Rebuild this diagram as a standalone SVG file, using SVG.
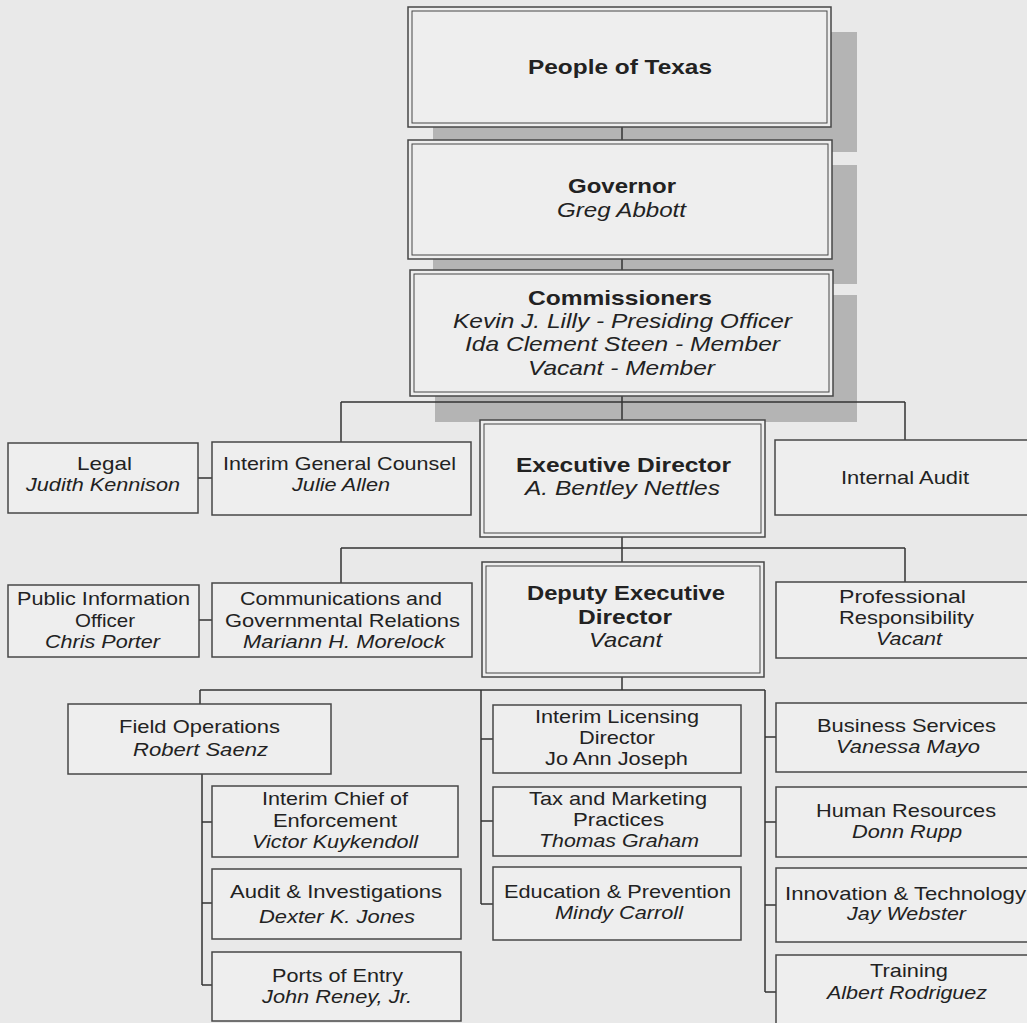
<svg xmlns="http://www.w3.org/2000/svg" width="1027" height="1023" viewBox="0 0 1027 1023">
<style>
.t{font-family:"Liberation Sans",Arial,sans-serif;fill:#222;text-anchor:middle}
.b{font-weight:bold;font-size:21px}
.bi{font-style:italic;font-size:21px}
.r{font-size:19px}
.i{font-style:italic;font-size:19px}
.box{fill:#eeeeee;stroke:#474747;stroke-width:1.5}
.inner{fill:none;stroke:#474747;stroke-width:1}
.shadow{fill:#b4b4b4}
.conn{stroke:#333;stroke-width:1.5;fill:none}
</style>
<rect width="1027" height="1023" fill="#e9e9e9"/>
<g id="shadows">
<rect class="shadow" x="433" y="32" width="424" height="120"/>
<rect class="shadow" x="433" y="165" width="424" height="119"/>
<rect class="shadow" x="435" y="295" width="422" height="127"/>
</g>
<g id="connectors">
<path class="conn" d="M622,127V140M622,259V270M622,396V420M341,402H905M341,402V442M905,402V440M198,478H212"/>
<path class="conn" d="M622,537V562M341,548H905M341,548V583M905,548V582M199,620H212"/>
<path class="conn" d="M622,677V690M200,690H765M200,690V704"/>
<path class="conn" d="M202,774V985M202,822H212M202,903H212M202,985H212"/>
<path class="conn" d="M481,690V904M481,739H493M481,821H493M481,904H493"/>
<path class="conn" d="M765,690V992M765,737H776M765,822H776M765,905H776M765,992H776"/>
</g>
<g id="people">
<rect class="box" x="408" y="7" width="423" height="120"/>
<rect class="inner" x="412" y="11" width="415" height="112"/>
<text class="t b" x="620" y="74" textLength="184" lengthAdjust="spacingAndGlyphs">People of Texas</text>
</g>
<g id="governor">
<rect class="box" x="408" y="140" width="424" height="119"/>
<rect class="inner" x="412" y="144" width="416" height="111"/>
<text class="t b" x="622" y="193" textLength="108" lengthAdjust="spacingAndGlyphs">Governor</text>
<text class="t bi" x="621.5" y="217" textLength="129" lengthAdjust="spacingAndGlyphs">Greg Abbott</text>
</g>
<g id="commissioners">
<rect class="box" x="410" y="270" width="423" height="126"/>
<rect class="inner" x="414" y="274" width="415" height="118"/>
<text class="t b" x="620" y="305" textLength="184" lengthAdjust="spacingAndGlyphs">Commissioners</text>
<text class="t bi" x="622.5" y="328" textLength="339" lengthAdjust="spacingAndGlyphs">Kevin J. Lilly - Presiding Officer</text>
<text class="t bi" x="622.5" y="351" textLength="315" lengthAdjust="spacingAndGlyphs">Ida Clement Steen - Member</text>
<text class="t bi" x="621.5" y="375" textLength="187" lengthAdjust="spacingAndGlyphs">Vacant - Member</text>
</g>
<g id="legal">
<rect class="box" x="8" y="443" width="190" height="70"/>
<text class="t r" x="104.5" y="470" textLength="55" lengthAdjust="spacingAndGlyphs">Legal</text>
<text class="t i" x="103" y="491" textLength="154" lengthAdjust="spacingAndGlyphs">Judith Kennison</text>
</g>
<g id="general-counsel">
<rect class="box" x="212" y="442" width="259" height="73"/>
<text class="t r" x="339.5" y="470" textLength="233" lengthAdjust="spacingAndGlyphs">Interim General Counsel</text>
<text class="t i" x="341" y="491" textLength="98" lengthAdjust="spacingAndGlyphs">Julie Allen</text>
</g>
<g id="executive-director">
<rect class="box" x="480" y="420" width="285" height="117"/>
<rect class="inner" x="484" y="424" width="277" height="109"/>
<text class="t b" x="623.5" y="472" textLength="215" lengthAdjust="spacingAndGlyphs">Executive Director</text>
<text class="t bi" x="622.5" y="495" textLength="195" lengthAdjust="spacingAndGlyphs">A. Bentley Nettles</text>
</g>
<g id="internal-audit">
<rect class="box" x="775" y="440" width="265" height="75"/>
<text class="t r" x="905" y="484" textLength="128" lengthAdjust="spacingAndGlyphs">Internal Audit</text>
</g>
<g id="public-information">
<rect class="box" x="8" y="585" width="191" height="72"/>
<text class="t r" x="103.5" y="605" textLength="173" lengthAdjust="spacingAndGlyphs">Public Information</text>
<text class="t r" x="105" y="627" textLength="60" lengthAdjust="spacingAndGlyphs">Officer</text>
<text class="t i" x="102.5" y="648" textLength="115" lengthAdjust="spacingAndGlyphs">Chris Porter</text>
</g>
<g id="communications">
<rect class="box" x="212" y="583" width="260" height="74"/>
<text class="t r" x="341" y="605" textLength="202" lengthAdjust="spacingAndGlyphs">Communications and</text>
<text class="t r" x="342.5" y="627" textLength="235" lengthAdjust="spacingAndGlyphs">Governmental Relations</text>
<text class="t i" x="344" y="648" textLength="202" lengthAdjust="spacingAndGlyphs">Mariann H. Morelock</text>
</g>
<g id="deputy-executive-director">
<rect class="box" x="482" y="562" width="282" height="115"/>
<rect class="inner" x="486" y="566" width="274" height="107"/>
<text class="t b" x="626" y="600" textLength="198" lengthAdjust="spacingAndGlyphs">Deputy Executive</text>
<text class="t b" x="625" y="624" textLength="94" lengthAdjust="spacingAndGlyphs">Director</text>
<text class="t bi" x="625.5" y="647" textLength="73" lengthAdjust="spacingAndGlyphs">Vacant</text>
</g>
<g id="professional-responsibility">
<rect class="box" x="776" y="582" width="264" height="76"/>
<text class="t r" x="902.5" y="603" textLength="127" lengthAdjust="spacingAndGlyphs">Professional</text>
<text class="t r" x="906.5" y="624" textLength="135" lengthAdjust="spacingAndGlyphs">Responsibility</text>
<text class="t i" x="909" y="645" textLength="66" lengthAdjust="spacingAndGlyphs">Vacant</text>
</g>
<g id="field-operations">
<rect class="box" x="68" y="704" width="263" height="70"/>
<text class="t r" x="199.5" y="733" textLength="161" lengthAdjust="spacingAndGlyphs">Field Operations</text>
<text class="t i" x="200.5" y="756" textLength="135" lengthAdjust="spacingAndGlyphs">Robert Saenz</text>
</g>
<g id="chief-enforcement">
<rect class="box" x="212" y="786" width="246" height="71"/>
<text class="t r" x="335" y="805" textLength="146" lengthAdjust="spacingAndGlyphs">Interim Chief of</text>
<text class="t r" x="335" y="827" textLength="124" lengthAdjust="spacingAndGlyphs">Enforcement</text>
<text class="t i" x="335" y="848" textLength="166" lengthAdjust="spacingAndGlyphs">Victor Kuykendoll</text>
</g>
<g id="audit-investigations">
<rect class="box" x="212" y="869" width="249" height="70"/>
<text class="t r" x="336" y="898" textLength="212" lengthAdjust="spacingAndGlyphs">Audit &amp; Investigations</text>
<text class="t i" x="337" y="923" textLength="156" lengthAdjust="spacingAndGlyphs">Dexter K. Jones</text>
</g>
<g id="ports-of-entry">
<rect class="box" x="212" y="952" width="249" height="69"/>
<text class="t r" x="337.5" y="982" textLength="131" lengthAdjust="spacingAndGlyphs">Ports of Entry</text>
<text class="t i" x="337" y="1003" textLength="150" lengthAdjust="spacingAndGlyphs">John Reney, Jr.</text>
</g>
<g id="licensing">
<rect class="box" x="493" y="705" width="248" height="68"/>
<text class="t r" x="617" y="723" textLength="164" lengthAdjust="spacingAndGlyphs">Interim Licensing</text>
<text class="t r" x="617" y="744" textLength="76" lengthAdjust="spacingAndGlyphs">Director</text>
<text class="t r" x="616.5" y="765" textLength="143" lengthAdjust="spacingAndGlyphs">Jo Ann Joseph</text>
</g>
<g id="tax-marketing">
<rect class="box" x="493" y="787" width="248" height="69"/>
<text class="t r" x="618" y="805" textLength="178" lengthAdjust="spacingAndGlyphs">Tax and Marketing</text>
<text class="t r" x="618.5" y="826" textLength="91" lengthAdjust="spacingAndGlyphs">Practices</text>
<text class="t i" x="619" y="847" textLength="160" lengthAdjust="spacingAndGlyphs">Thomas Graham</text>
</g>
<g id="education-prevention">
<rect class="box" x="493" y="867" width="248" height="73"/>
<text class="t r" x="617.5" y="898" textLength="227" lengthAdjust="spacingAndGlyphs">Education &amp; Prevention</text>
<text class="t i" x="619" y="919" textLength="128" lengthAdjust="spacingAndGlyphs">Mindy Carroll</text>
</g>
<g id="business-services">
<rect class="box" x="776" y="703" width="264" height="69"/>
<text class="t r" x="906.5" y="732" textLength="179" lengthAdjust="spacingAndGlyphs">Business Services</text>
<text class="t i" x="908" y="753" textLength="144" lengthAdjust="spacingAndGlyphs">Vanessa Mayo</text>
</g>
<g id="human-resources">
<rect class="box" x="776" y="787" width="264" height="70"/>
<text class="t r" x="906" y="817" textLength="180" lengthAdjust="spacingAndGlyphs">Human Resources</text>
<text class="t i" x="907" y="838" textLength="110" lengthAdjust="spacingAndGlyphs">Donn Rupp</text>
</g>
<g id="innovation-technology">
<rect class="box" x="776" y="868" width="264" height="74"/>
<text class="t r" x="905.5" y="900" textLength="241" lengthAdjust="spacingAndGlyphs">Innovation &amp; Technology</text>
<text class="t i" x="906.5" y="920" textLength="119" lengthAdjust="spacingAndGlyphs">Jay Webster</text>
</g>
<g id="training">
<rect class="box" x="776" y="955" width="264" height="80"/>
<text class="t r" x="909" y="977" textLength="78" lengthAdjust="spacingAndGlyphs">Training</text>
<text class="t i" x="907" y="999" textLength="160" lengthAdjust="spacingAndGlyphs">Albert Rodriguez</text>
</g>
</svg>
